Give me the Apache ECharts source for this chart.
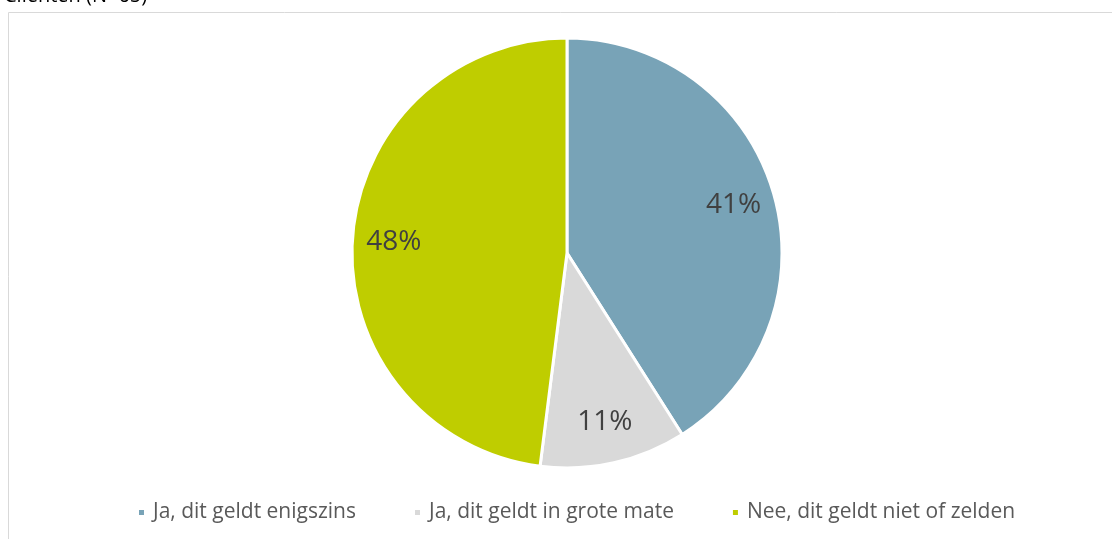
<!DOCTYPE html>
<html><head><meta charset="utf-8">
<script src="https://cdn.jsdelivr.net/npm/echarts@6/dist/echarts.min.js"></script>
<style>html,body{margin:0;padding:0;background:#fff}#c{width:1112px;height:539px}</style>
</head><body><div id="c"></div>
<script>
const categories = ['Ja, dit geldt enigszins', 'Ja, dit geldt in grote mate', 'Nee, dit geldt niet of zelden'];
const values = [41, 11, 48];
const colors = ['#78A3B7', '#D9D9D9', '#BFCD00'];
const titleText = 'Cliënten (N=65)';

const data = categories.map((n, i) => ({ name: n, value: values[i] }));
const chart = echarts.init(document.getElementById('c'), null, { renderer: 'canvas' });
const center = [567, 253];
const R = 215;
chart.setOption({
  animation: false,
  color: colors,
  title: { text: titleText, left: -1, top: -19, textStyle: { fontFamily: 'Open Sans', fontSize: 20, fontWeight: 'normal', color: '#000' } },
  graphic: [{ type: 'rect', shape: { x: 8.5, y: 12.5, width: 1200, height: 600 }, style: { fill: 'none', stroke: '#d9d9d9', lineWidth: 1 }, silent: true }],
  legend: {
    bottom: 11, left: 132, itemWidth: 7, itemHeight: 7, itemGap: 57, icon: 'rect',
    textStyle: { fontFamily: 'Open Sans', fontSize: 21, color: '#595959', padding: [0, 0, 0, 3] },
    data: categories
  },
  series: [
    { type: 'pie', center: center, radius: [0, R], startAngle: 90, clockwise: true, data: data,
      itemStyle: { borderColor: '#fff', borderWidth: 3 }, label: { show: false }, labelLine: { show: false },
      emphasis: { disabled: true }, silent: true },
    { type: 'pie', center: center, radius: [126, R], startAngle: 90, clockwise: true, data: data,
      itemStyle: { color: 'rgba(0,0,0,0)', borderWidth: 0 },
      label: { show: true, position: 'inside', formatter: '{c}%', fontFamily: 'Open Sans', fontSize: 28, color: '#404040' },
      labelLine: { show: false }, emphasis: { disabled: true }, silent: true, legendHoverLink: false }
  ]
});
</script></body></html>
